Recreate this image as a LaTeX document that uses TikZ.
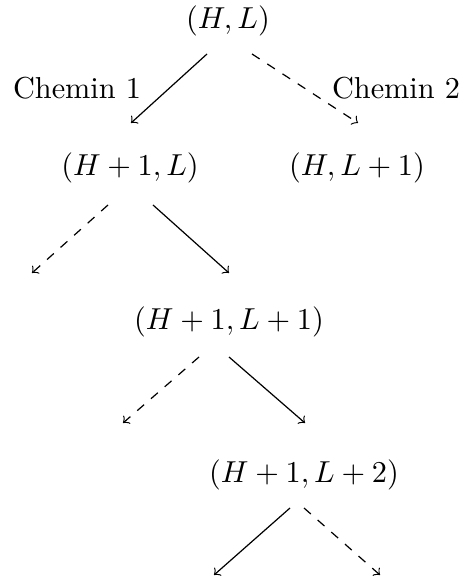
\documentclass[tikz,border=0pt]{standalone}
\begin{document}
\begin{tikzpicture}[x=0.33pt,y=-0.33pt,
  lbl/.style={inner sep=0pt},
  solidarrow/.style={->},
  dasharrow/.style={->,dashed}]
\useasboundingbox (0,0) rectangle (464,581);
% nodes
\node[lbl] (hl) at (228,21) {$(H,L)$};
\node[lbl] (c1) at (77,88) {Chemin 1};
\node[lbl] (c2) at (396,88) {Chemin 2};
\node[lbl] (h1l) at (130,168) {$(H+1,L)$};
\node[lbl] (hl1) at (357,168) {$(H,L+1)$};
\node[lbl] (h1l1) at (229,322) {$(H+1,L+1)$};
\node[lbl] (h1l2) at (304,475) {$(H+1,L+2)$};
% connector end points
\coordinate (a1s) at (207,54);  \coordinate (a1e) at (131,123);
\coordinate (a2s) at (252,54);  \coordinate (a2e) at (358,123);
\coordinate (b1s) at (108,205); \coordinate (b1e) at (32,273);
\coordinate (b2s) at (153,205); \coordinate (b2e) at (229,273);
\coordinate (c1s) at (199,357); \coordinate (c1e) at (123,423);
\coordinate (c2s) at (229,357); \coordinate (c2e) at (305,423);
\coordinate (d1s) at (290,508); \coordinate (d1e) at (214,575);
\coordinate (d2s) at (304,508); \coordinate (d2e) at (380,575);
% connectors
\draw[solidarrow] (a1s) -- (a1e);
\draw[dasharrow] (a2s) -- (a2e);
\draw[dasharrow] (b1s) -- (b1e);
\draw[solidarrow] (b2s) -- (b2e);
\draw[dasharrow] (c1s) -- (c1e);
\draw[solidarrow] (c2s) -- (c2e);
\draw[solidarrow] (d1s) -- (d1e);
\draw[dasharrow] (d2s) -- (d2e);
\end{tikzpicture}
\end{document}
